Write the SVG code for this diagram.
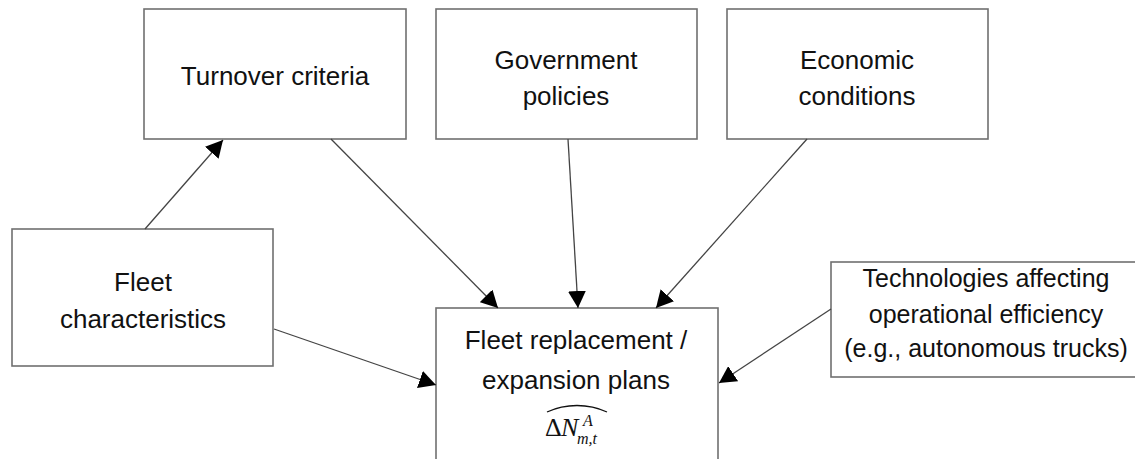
<svg xmlns="http://www.w3.org/2000/svg" width="1135" height="459" viewBox="0 0 1135 459">
  <style>
    .box { fill: #ffffff; stroke: #707070; stroke-width: 1.6; }
    .lbl { font-family: "Liberation Sans", Arial, sans-serif; font-size: 26px; fill: #111111; text-anchor: middle; }
    .sm { font-size: 25px; }
    .edge { stroke: #444444; stroke-width: 1.3; fill: none; marker-end: url(#head); }
    .math { font-family: "Liberation Serif", "DejaVu Serif", serif; fill: #111111; }
  </style>
  <defs>
    <marker id="head" viewBox="0 0 17 18" refX="17" refY="9" markerWidth="17" markerHeight="18" markerUnits="userSpaceOnUse" orient="auto">
      <path d="M0,0 L17,9 L0,18 z" fill="#000000"/>
    </marker>
  </defs>

  <g id="turnover-criteria">
    <rect class="box" x="144" y="9" width="262" height="130"/>
    <text class="lbl" x="275" y="85">Turnover criteria</text>
  </g>

  <g id="government-policies">
    <rect class="box" x="436" y="9" width="261" height="130"/>
    <text class="lbl" x="566" y="69">Government</text>
    <text class="lbl" x="566" y="105">policies</text>
  </g>

  <g id="economic-conditions">
    <rect class="box" x="727" y="9" width="261" height="130"/>
    <text class="lbl" x="857" y="69">Economic</text>
    <text class="lbl" x="857" y="105">conditions</text>
  </g>

  <g id="fleet-characteristics">
    <rect class="box" x="12" y="229" width="261" height="137"/>
    <text class="lbl" x="143" y="291">Fleet</text>
    <text class="lbl" x="143" y="328">characteristics</text>
  </g>

  <g id="technologies">
    <rect class="box" x="831" y="262" width="310" height="115"/>
    <text class="lbl sm" x="986" y="287">Technologies affecting</text>
    <text class="lbl sm" x="986" y="323">operational efficiency</text>
    <text class="lbl sm" x="986" y="357">(e.g., autonomous trucks)</text>
  </g>

  <g id="fleet-replacement">
    <rect class="box" x="436" y="308" width="282" height="200"/>
    <text class="lbl" x="576" y="349">Fleet replacement /</text>
    <text class="lbl" x="576" y="389">expansion plans</text>
    <!-- ΔN with superscript A, subscript m,t and a wide hat over the whole term -->
    <text class="math" x="545" y="436" font-size="26">Δ</text>
    <text class="math" x="561" y="436" font-size="26" font-style="italic">N</text>
    <text class="math" x="583" y="426" font-size="16" font-style="italic">A</text>
    <text class="math" x="577" y="444" font-size="16" font-style="italic">m,t</text>
    <path d="M547,412 C560,406 570,405.5 577,405.5 C584,405.5 594,406 607,412" fill="none" stroke="#111111" stroke-width="1.3"/>
  </g>

  <g id="connectors">
    <line class="edge" x1="145" y1="229" x2="223" y2="140"/>
    <line class="edge" x1="331" y1="139" x2="498" y2="308"/>
    <line class="edge" x1="568" y1="139" x2="578" y2="308"/>
    <line class="edge" x1="807" y1="139" x2="656" y2="308"/>
    <line class="edge" x1="274" y1="329" x2="436" y2="385"/>
    <line class="edge" x1="831" y1="309" x2="719" y2="383"/>
  </g>
</svg>
